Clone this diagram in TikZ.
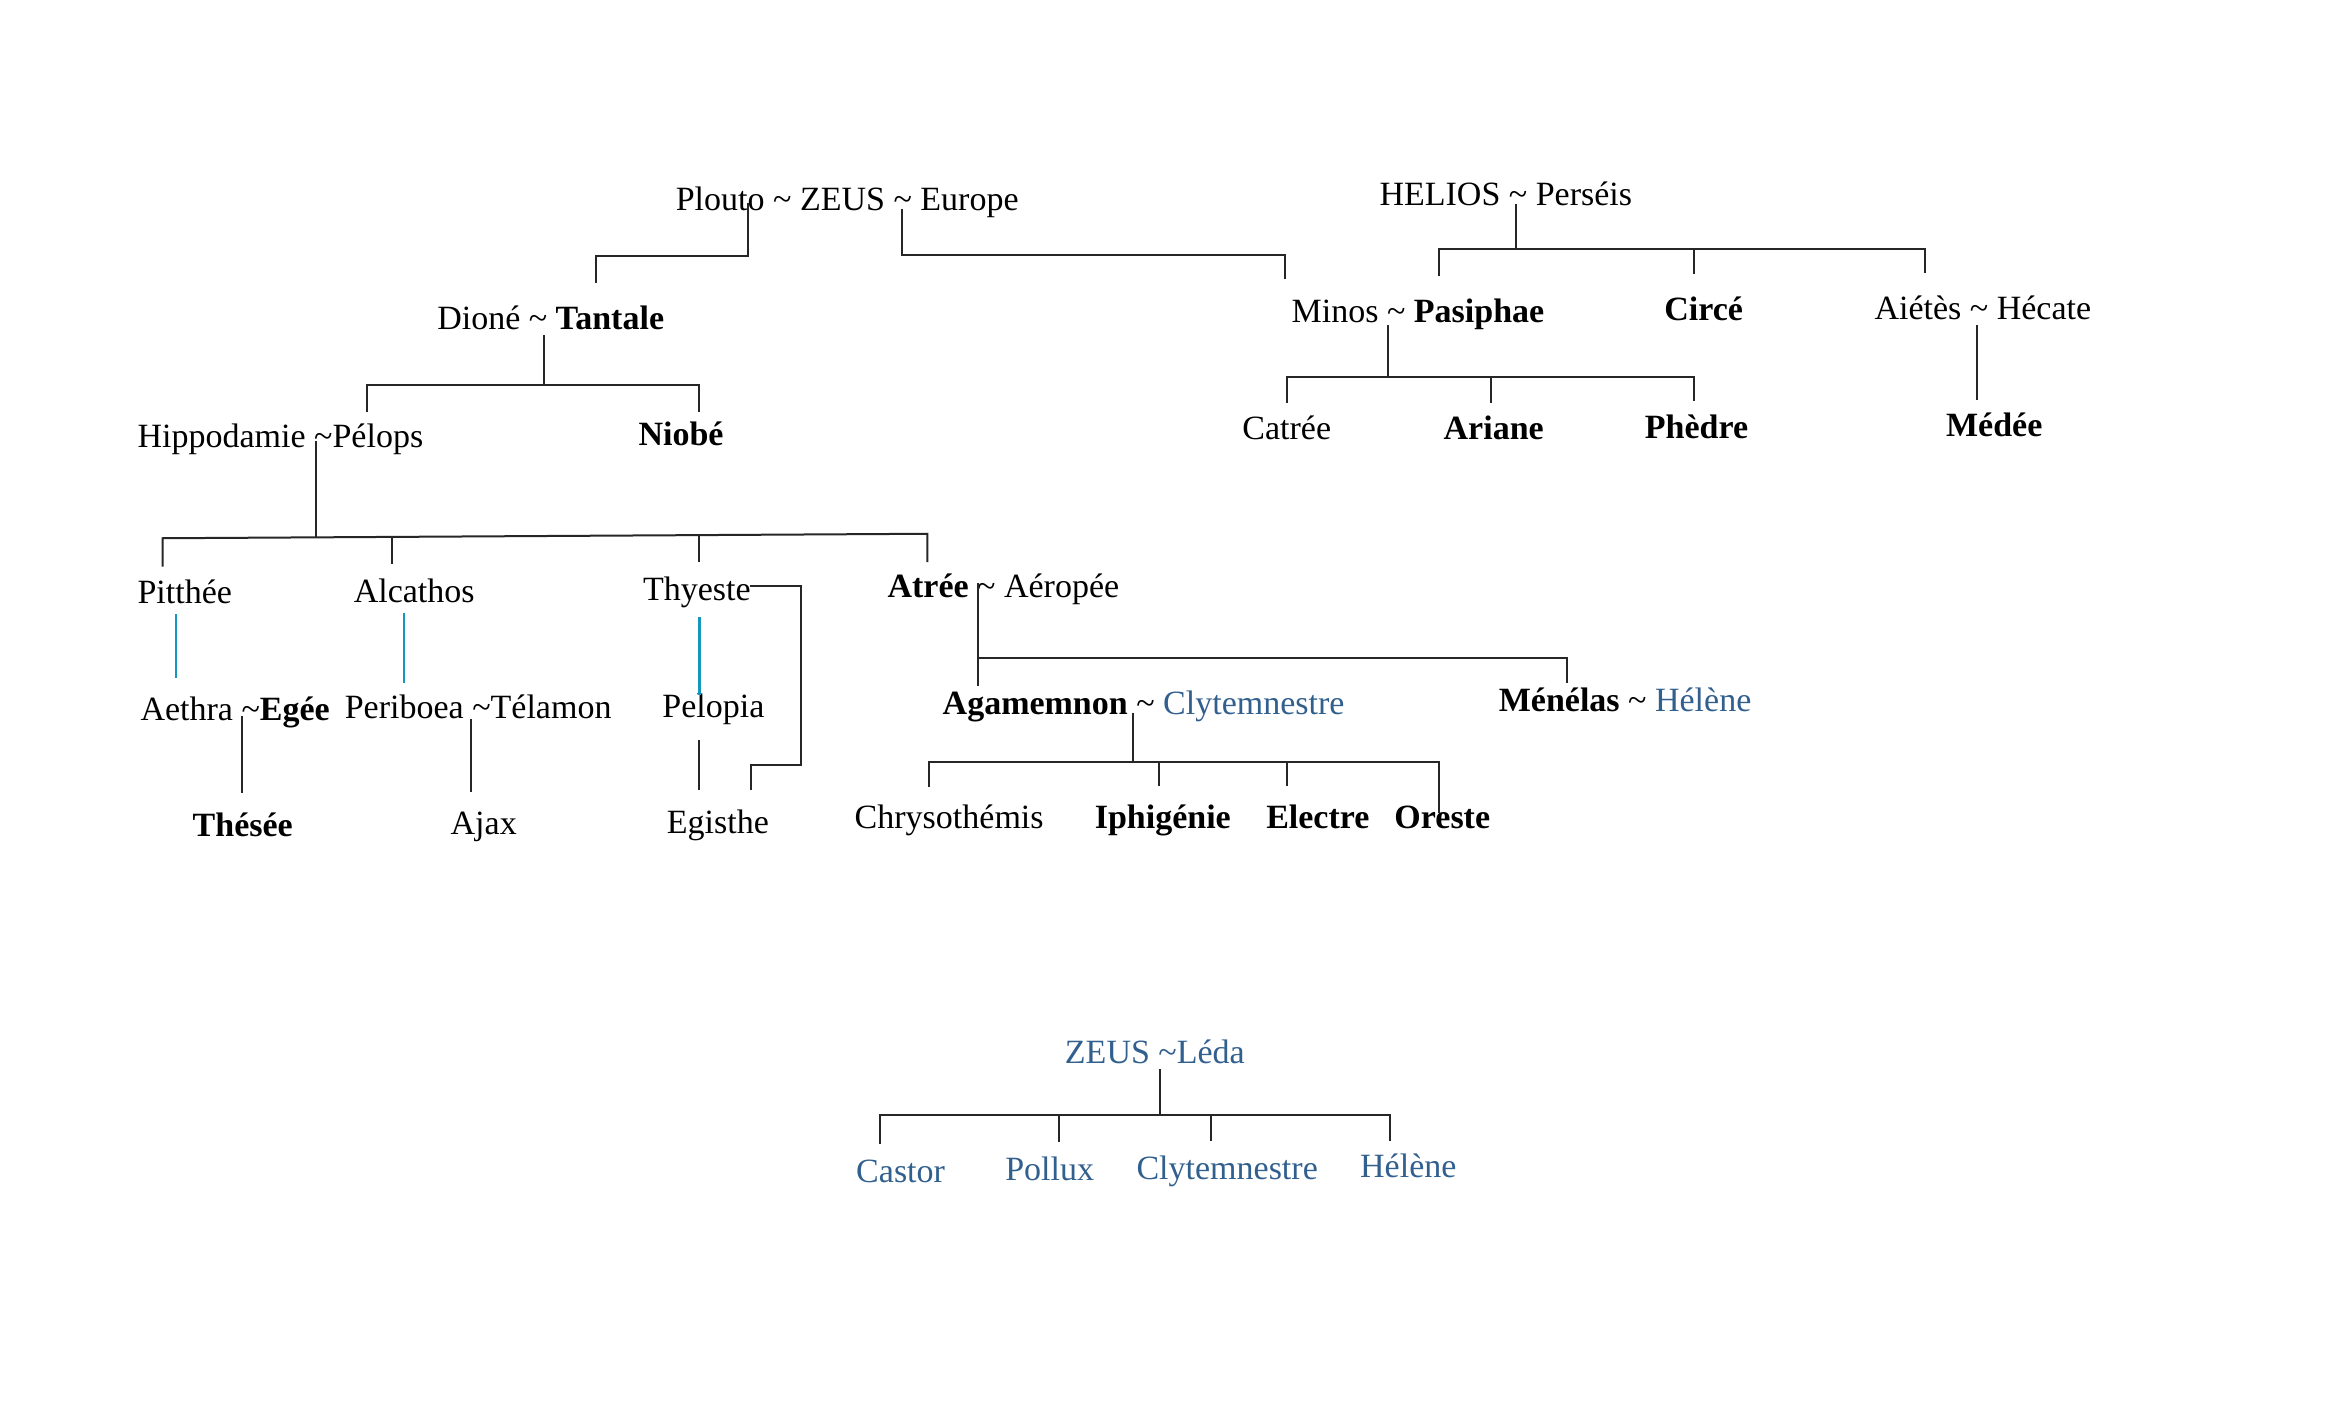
\documentclass[tikz,border=0pt]{standalone}
\usepackage{fontspec}
\setmainfont{Liberation Serif}
\definecolor{tblue}{RGB}{50,96,142}
\definecolor{lblue}{RGB}{20,150,190}
\begin{document}
\begin{tikzpicture}[x=0.7455pt,y=-0.7455pt,
  every node/.style={inner sep=0pt, anchor=base west, font=\fontsize{17}{20}\selectfont},
  ln/.style={line width=1pt, black!85},
  bl/.style={line width=1.3pt, lblue},
  bt/.style={text=tblue}]
\useasboundingbox (0,0) rectangle (1568.1,943.7);
\fill[white] (0,0) rectangle (1568.1,943.7);
\newcommand{\tl}{\textasciitilde}
% top generation
\node (pz) at (453,141) {Plouto \tl{} ZEUS \tl{} Europe};
\node (he) at (925,138) {HELIOS \tl{} Perséis};
% second
\node (dt) at (293,221) {Dioné \tl{} \textbf{Tantale}};
\node (mp) at (866,216) {Minos \tl{} \textbf{Pasiphae}};
\node (ci) at (1116,215) {\textbf{Circé}};
\node (ah) at (1257,214) {Aiétès \tl{} Hécate};
% third
\node (hp) at (92,300) {Hippodamie \tl Pélops};
\node (ni) at (428,299) {\textbf{Niobé}};
\node (ca) at (833,295) {Catrée};
\node (ar) at (968,295) {\textbf{Ariane}};
\node (ph) at (1103,294) {\textbf{Phèdre}};
\node (me) at (1305,293) {\textbf{Médée}};
% fourth
\node (pi) at (92,405) {Pitthée};
\node (al) at (237,404) {Alcathos};
\node (th) at (431,403) {Thyeste};
\node (at) at (595,401) {\textbf{Atrée} \tl{} Aéropée};
% fifth
\node (ae) at (94,483) {Aethra \tl\textbf{Egée}};
\node (pt) at (231,482) {Periboea \tl Télamon};
\node (pe) at (444,481) {Pelopia};
\node (ag) at (632,479) {\textbf{Agamemnon} \tl{} \textcolor{tblue}{Clytemnestre}};
\node (mh) at (1005,477) {\textbf{Ménélas} \tl{} \textcolor{tblue}{Hélène}};
% sixth
\node (ts) at (129,561) {\textbf{Thésée}};
\node (aj) at (302,560) {Ajax};
\node (eg) at (447,559) {Egisthe};
\node (ch) at (573,556) {Chrysothémis};
\node (ip) at (734,556) {\textbf{Iphigénie}};
\node (el) at (849,556) {\textbf{Electre}};
\node (or) at (935,556) {\textbf{Oreste}};
% Leda
\node[bt] (zl) at (714,713) {ZEUS \tl Léda};
\node[bt] (cs) at (574,793) {Castor};
\node[bt] (po) at (674,792) {Pollux};
\node[bt] (cl) at (762,791) {Clytemnestre};
\node[bt] (hl) at (912,790) {Hélène};
% connectors
\draw[ln] (502,136) -- (502,172) -- (400,172) -- (400,190);
\draw[ln] (605,140) -- (605,171) -- (862,171) -- (862,187);
\draw[ln] (1017,137) -- (1017,167);
\draw[ln] (965,185) -- (965,167) -- (1291,167) -- (1291,183);
\draw[ln] (1136,167) -- (1136,184);
\draw[ln] (365,225) -- (365,258);
\draw[ln] (246,276) -- (246,258) -- (469,258) -- (469,276);
\draw[ln] (931,218) -- (931,253);
\draw[ln] (863,270) -- (863,253) -- (1136,253) -- (1136,269);
\draw[ln] (1000,253) -- (1000,270);
\draw[ln] (1326,218) -- (1326,268);
\draw[ln] (212,296) -- (212,361);
\draw[ln] (109,380) -- (109,361) -- (622,358) -- (622,377);
\draw[ln] (263,360.5) -- (263,378);
\draw[ln] (469,359.5) -- (469,377);
\draw[bl] (118,412) -- (118,455);
\draw[bl] (271,411) -- (271,458);
\draw[bl] (469,414) -- (469,466);
\draw[ln] (162,480) -- (162,532);
\draw[ln] (316,482) -- (316,531);
\draw[ln] (469,496) -- (469,530);
\draw[ln] (503,393) -- (537,393) -- (537,513) -- (504,513) -- (504,530);
\draw[ln] (656,391) -- (656,460);
\draw[ln] (656,441) -- (1051,441) -- (1051,458);
\draw[ln] (760,478) -- (760,511);
\draw[ln] (623,528) -- (623,511) -- (965,511) -- (965,545);
\draw[ln] (777,511) -- (777,527);
\draw[ln] (863,511) -- (863,527);
\draw[ln] (778,717) -- (778,748);
\draw[ln] (590,767) -- (590,748) -- (932,748) -- (932,765);
\draw[ln] (710,748) -- (710,766);
\draw[ln] (812,748) -- (812,765);
\end{tikzpicture}
\end{document}
